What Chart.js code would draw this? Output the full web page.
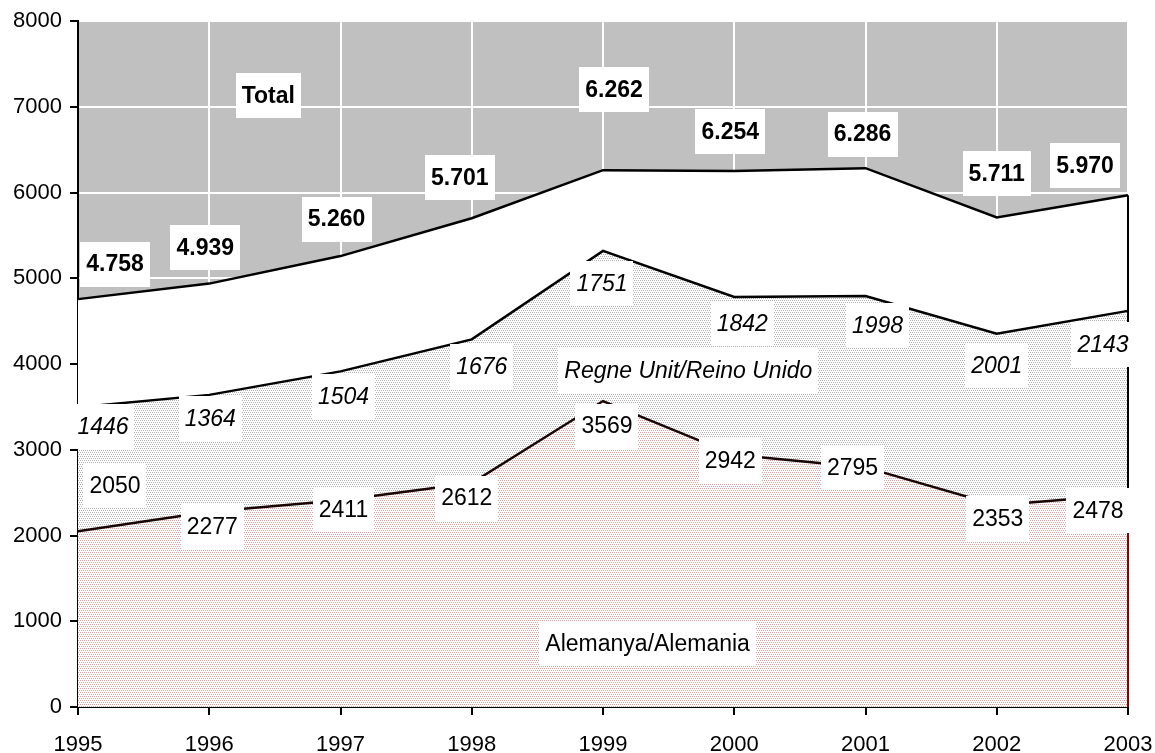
<!DOCTYPE html>
<html>
<head>
<meta charset="utf-8">
<script src="https://cdn.jsdelivr.net/npm/chart.js@4"></script>
<style>
  html, body { margin: 0; padding: 0; background: #fff; }
  #wrap { width: 1155px; height: 753px; }
</style>
</head>
<body>
<div id="wrap"><canvas id="tourChart"></canvas></div>
<script>
// Data
const years = ["1995", "1996", "1997", "1998", "1999", "2000", "2001", "2002", "2003"];
const germany = [2050, 2277, 2411, 2612, 3569, 2942, 2795, 2353, 2478];
const uk = [1446, 1364, 1504, 1676, 1751, 1842, 1998, 2001, 2143];
const total = [4758, 4939, 5260, 5701, 6262, 6254, 6286, 5711, 5970];
const yTicks = [0, 1000, 2000, 3000, 4000, 5000, 6000, 7000, 8000];

// label offsets from each point, in pixels [dx, dy]
const totalOffsets = [[37, -35], [-4, -36], [-4, -37], [-12, -41], [11, -81], [-4, -39], [-3, -34], [0, -44], [-43, -30]];
const ukOffsets = [[25, 19], [1, 24], [3, 25], [10, 27], [-1, 33], [8, 27], [12, 29], [0, 32], [-25, 34]];
const germanyOffsets = [[37, -46], [3, 15], [3, 9], [-5, 15], [4, 25], [-4, 6], [-13, 0], [1, 13], [-30, 16]];

const FONT = "'Liberation Sans', Arial, sans-serif";

// dotted fills for the stacked areas
function makePattern(dot) {
    const c = document.createElement("canvas");
    c.width = 4;
    c.height = 4;
    const g = c.getContext("2d");
    g.fillStyle = "#ffffff";
    g.fillRect(0, 0, 4, 4);
    g.fillStyle = dot;
    g.fillRect(0, 0, 1, 1);
    g.fillRect(2, 0, 1, 1);
    g.fillRect(1, 2, 1, 1);
    g.fillRect(3, 2, 1, 1);
    return g.createPattern(c, "repeat");
}

const ukFill = makePattern("#b2b2b2");
const deFill = makePattern("#e0a0a0");

function fmtTotal(v) {
    return (v / 1000).toFixed(3);
}

function drawBoxLabel(ctx, text, x, y, font) {
    ctx.font = font;
    const w = ctx.measureText(text).width + 12;
    const h = 45;
    ctx.fillStyle = "#ffffff";
    ctx.fillRect(Math.round(x - w / 2), Math.round(y - h / 2), Math.round(w), h);
    ctx.fillStyle = "#000000";
    ctx.textAlign = "center";
    ctx.textBaseline = "middle";
    ctx.fillText(text, x, y + 1);
}

// gray plot background behind the grid
const plotBackground = {
    id: "plotBackground",
    beforeDraw(chart) {
        const { ctx, chartArea: a } = chart;
        ctx.save();
        ctx.fillStyle = "#c0c0c0";
        ctx.fillRect(a.left, a.top, a.right - a.left, a.bottom - a.top);
        ctx.restore();
    }
};

// closing edge at the last year plus all value labels
const areaLabels = {
    id: "areaLabels",
    afterDatasetsDraw(chart) {
        const ctx = chart.ctx;
        const xs = chart.scales.x;
        const ys = chart.scales.y;
        const last = years.length - 1;
        const deMeta = chart.getDatasetMeta(0);
        const ukMeta = chart.getDatasetMeta(1);
        const totMeta = chart.getDatasetMeta(2);

        ctx.save();
        const ex = deMeta.data[last].x;
        ctx.lineWidth = 2;
        ctx.strokeStyle = "#000000";
        ctx.beginPath();
        ctx.moveTo(ex, totMeta.data[last].y);
        ctx.lineTo(ex, deMeta.data[last].y);
        ctx.stroke();
        ctx.strokeStyle = "#8b0000";
        ctx.beginPath();
        ctx.moveTo(ex, deMeta.data[last].y);
        ctx.lineTo(ex, ys.getPixelForValue(0));
        ctx.stroke();

        const bold = "bold 23px " + FONT;
        const italic = "italic 23px " + FONT;
        const plain = "23px " + FONT;

        total.forEach((v, i) => {
            const p = totMeta.data[i];
            drawBoxLabel(ctx, fmtTotal(v), p.x + totalOffsets[i][0], p.y + totalOffsets[i][1], bold);
        });
        uk.forEach((v, i) => {
            const p = ukMeta.data[i];
            drawBoxLabel(ctx, String(v), p.x + ukOffsets[i][0], p.y + ukOffsets[i][1], italic);
        });
        germany.forEach((v, i) => {
            const p = deMeta.data[i];
            drawBoxLabel(ctx, String(v), p.x + germanyOffsets[i][0], p.y + germanyOffsets[i][1], plain);
        });

        // series names
        drawBoxLabel(ctx, "Total", xs.getPixelForValue(1.45), ys.getPixelForValue(7136), bold);
        drawBoxLabel(ctx, "Regne Unit/Reino Unido", xs.getPixelForValue(4.65), ys.getPixelForValue(3927), italic);
        drawBoxLabel(ctx, "Alemanya/Alemania", xs.getPixelForValue(4.34), ys.getPixelForValue(741), plain);
        ctx.restore();
    }
};

const ctx = document.getElementById("tourChart").getContext("2d");

new Chart(ctx, {
    type: "line",
    data: {
        labels: years,
        datasets: [
            {
                label: "Alemanya/Alemania",
                data: germany,
                stack: "countries",
                fill: "origin",
                backgroundColor: deFill,
                borderColor: "#1a0505",
                borderWidth: 2.5,
                pointRadius: 0,
                tension: 0
            },
            {
                label: "Regne Unit/Reino Unido",
                data: uk,
                stack: "countries",
                fill: "-1",
                backgroundColor: ukFill,
                borderColor: "#000000",
                borderWidth: 2.5,
                pointRadius: 0,
                tension: 0
            },
            {
                label: "Total",
                data: total,
                stack: "total",
                fill: "origin",
                backgroundColor: "#ffffff",
                borderColor: "#000000",
                borderWidth: 2.5,
                pointRadius: 0,
                tension: 0
            }
        ]
    },
    options: {
        responsive: true,
        maintainAspectRatio: false,
        animation: false,
        layout: { padding: { top: 19, right: 27, bottom: 0, left: 0 } },
        plugins: {
            legend: { display: false },
            tooltip: { enabled: false }
        },
        scales: {
            x: {
                offset: false,
                grid: {
                    color: "#ffffff",
                    lineWidth: 2,
                    tickColor: "#000000",
                    tickLength: 8,
                    tickWidth: 2
                },
                border: { color: "#000000", width: 2 },
                ticks: {
                    color: "#000000",
                    font: { family: FONT, size: 22 },
                    padding: 17,
                    maxRotation: 0,
                    autoSkip: false
                },
                afterFit(scale) {
                    scale.height = 46;
                    // end labels may hang into the page margin
                    scale.paddingLeft = 0;
                    scale.paddingRight = 0;
                }
            },
            y: {
                stacked: true,
                min: 0,
                max: 8000,
                afterBuildTicks(scale) {
                    scale.ticks = yTicks.map(v => ({ value: v }));
                },
                grid: {
                    color: "#ffffff",
                    lineWidth: 2,
                    tickColor: "#000000",
                    tickLength: 8,
                    tickWidth: 2
                },
                border: { color: "#000000", width: 2 },
                ticks: {
                    color: "#000000",
                    font: { family: FONT, size: 22 },
                    padding: 8,
                    callback: v => String(v)
                },
                afterFit(scale) { scale.width = 78; }
            }
        }
    },
    plugins: [plotBackground, areaLabels]
});
</script>
</body>
</html>
